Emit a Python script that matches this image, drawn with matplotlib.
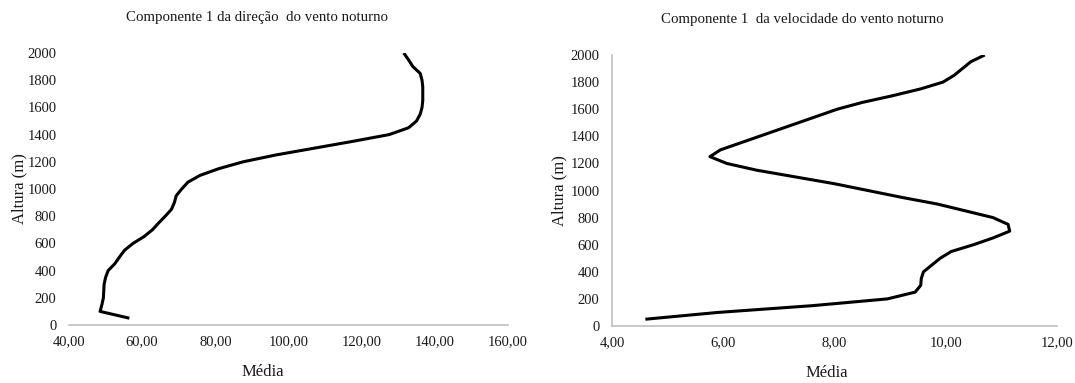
import matplotlib
matplotlib.use("Agg")
import matplotlib.pyplot as plt

plt.rcParams['font.family'] = ['Liberation Serif', 'DejaVu Serif']

# altura (m) das medias, de 50 em 50 m
altura = [50, 100, 150, 200, 250, 300, 350, 400, 450, 500,
          550, 600, 650, 700, 750, 800, 850, 900, 950, 1000,
          1050, 1100, 1150, 1200, 1250, 1300, 1350, 1400, 1450, 1500,
          1550, 1600, 1650, 1700, 1750, 1800, 1850, 1900, 1950, 2000]

# componente 1 da direcao do vento noturno
direcao = [56.5, 48.5, 49.0, 49.4, 49.5, 49.6, 50.0, 50.7, 52.5, 53.8,
           55.2, 57.5, 60.5, 62.8, 64.5, 66.3, 68.0, 68.8, 69.3, 70.8,
           72.5, 75.8, 81.0, 87.6, 96.5, 107.0, 117.5, 127.5, 132.8, 135.0,
           136.0, 136.5, 136.7, 136.7, 136.7, 136.5, 136.0, 134.0, 132.8, 131.5]

# componente 1 da velocidade do vento noturno
velocidade = [4.6, 5.9, 7.6, 8.95, 9.45, 9.55, 9.56, 9.6, 9.75, 9.9,
              10.1, 10.5, 10.85, 11.15, 11.12, 10.85, 10.35, 9.85, 9.2, 8.6,
              8.0, 7.3, 6.6, 6.06, 5.76, 5.95, 6.3, 6.65, 7.0, 7.35,
              7.7, 8.05, 8.5, 9.05, 9.55, 9.95, 10.15, 10.3, 10.45, 10.7]

yticks = [0, 200, 400, 600, 800, 1000, 1200, 1400, 1600, 1800, 2000]
xticks_dir = [40, 60, 80, 100, 120, 140, 160]
xlabels_dir = ['40,00', '60,00', '80,00', '100,00', '120,00', '140,00', '160,00']
xticks_vel = [4, 6, 8, 10, 12]
xlabels_vel = ['4,00', '6,00', '8,00', '10,00', '12,00']

W, H = 1075, 383
fig = plt.figure(figsize=(W / 100, H / 100), dpi=100)

grey = '#bfbfbf'
txt = '#1a1a1a'


def style(ax, xt, xl, show_left):
    ax.set_ylim(0, 2000)
    ax.set_yticks(yticks)
    ax.set_xticks(xt)
    ax.set_xticklabels(xl)
    ax.set_xlim(xt[0], xt[-1])
    for s in ['top', 'right']:
        ax.spines[s].set_visible(False)
    ax.spines['left'].set_visible(show_left)
    ax.spines['bottom'].set_color(grey)
    ax.spines['left'].set_color(grey)
    ax.spines['bottom'].set_linewidth(1.2)
    ax.spines['left'].set_linewidth(1.2)
    ax.tick_params(axis='both', length=0, labelsize=10.5, colors=txt)
    ax.tick_params(axis='y', pad=9)
    ax.tick_params(axis='x', pad=7)
    ax.set_xlabel('Média', fontsize=12, color=txt, labelpad=3)
    ax.set_ylabel('Altura (m)', fontsize=12, color=txt, labelpad=2)


# esquerda: direcao
ax1 = fig.add_axes([69 / W, 1 - 325 / H, (508 - 69) / W, (325 - 53) / H])
ax1.plot(direcao, altura, color='black', lw=2.2, solid_joinstyle='round',
         solid_capstyle='butt')
style(ax1, xticks_dir, xlabels_dir, False)
ax1.xaxis.set_label_coords((263 - 69) / (508 - 69), -0.145)
ax1.yaxis.set_label_coords(-0.095, 0.5)

# direita: velocidade
ax2 = fig.add_axes([612 / W, 1 - 326 / H, (1057 - 612) / W, (326 - 55) / H])
ax2.plot(velocidade, altura, color='black', lw=2.2, solid_joinstyle='round',
         solid_capstyle='butt')
style(ax2, xticks_vel, xlabels_vel, True)
ax2.xaxis.set_label_coords((827 - 612) / (1057 - 612), -0.145)
ax2.yaxis.set_label_coords(-0.1, 0.5)

fig.text(257 / W, 1 - 18 / H, 'Componente 1 da direção  do vento noturno',
         ha='center', va='center', fontsize=10.7, color=txt)
fig.text(802 / W, 1 - 20 / H, 'Componente 1  da velocidade do vento noturno',
         ha='center', va='center', fontsize=10.7, color=txt)

fig.savefig('out.png', dpi=100)
